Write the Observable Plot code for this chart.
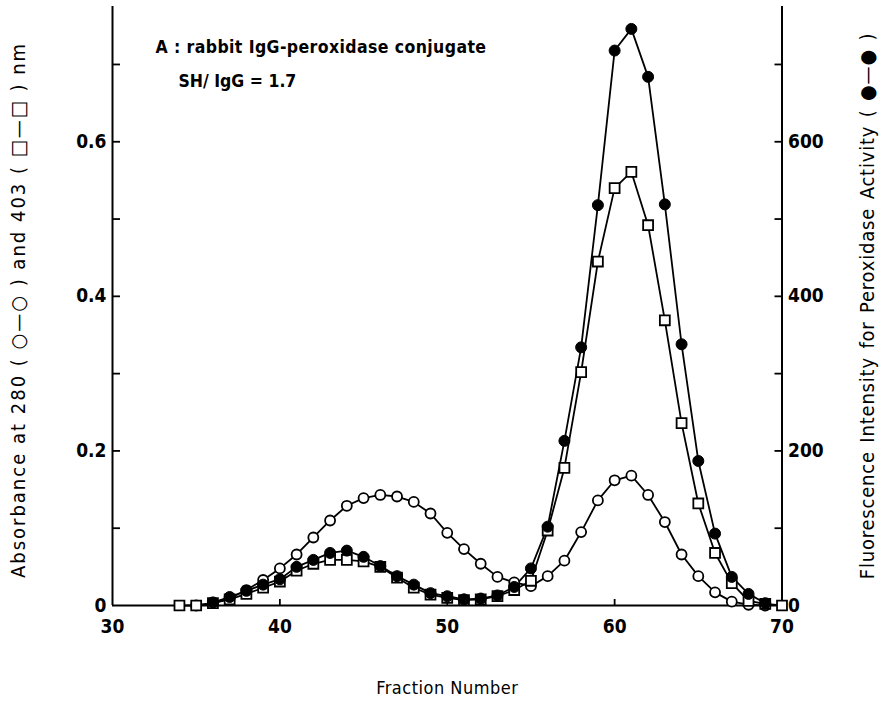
<!DOCTYPE html>
<html><head><meta charset="utf-8">
<script src="https://cdn.jsdelivr.net/npm/d3@7"></script>
<script src="https://cdn.jsdelivr.net/npm/@observablehq/plot@0.6"></script>
<style>body{margin:0;background:#fff} svg{display:block}</style>
</head><body><div id="chart"></div>
<script>
// Absorbance at 280 nm (open circles)
const fractions280 = [35,36,37,38,39,40,41,42,43,44,45,46,47,48,49,50,51,52,53,54,55,56,57,58,59,60,61,62,63,64,65,66,67,68,69];
const abs280 = [0,0.003,0.009,0.02,0.033,0.048,0.066,0.088,0.110,0.129,0.139,0.143,0.141,0.134,0.119,0.094,0.073,0.054,0.037,0.030,0.025,0.038,0.058,0.095,0.136,0.162,0.168,0.143,0.108,0.066,0.038,0.017,0.005,0.001,0];
// Absorbance at 403 nm (open squares)
const fractions403 = [34,35,36,37,38,39,40,41,42,43,44,45,46,47,48,49,50,51,52,53,54,55,56,57,58,59,60,61,62,63,64,65,66,67,68,69,70];
const abs403 = [0,0,0.003,0.008,0.015,0.023,0.031,0.045,0.054,0.059,0.059,0.057,0.050,0.036,0.023,0.014,0.010,0.007,0.008,0.012,0.020,0.032,0.097,0.178,0.302,0.445,0.540,0.561,0.492,0.369,0.236,0.132,0.068,0.029,0.006,0.002,0];
// Fluorescence intensity for peroxidase activity (filled circles, right axis)
const fractionsFluor = [36,37,38,39,40,41,42,43,44,45,46,47,48,49,50,51,52,53,54,55,56,57,58,59,60,61,62,63,64,65,66,67,68,69];
const fluor = [4,11,19,27,34,50,59,68,71,63,51,38,27,16,12,8,9,13,24,48,102,213,334,518,718,746,684,519,338,187,93,37,15,3];

const xDomain = [30, 70];
const xTickLabels = [30, 40, 50, 60, 70];
const xInnerTicks = [40, 50, 60];
const yDomain = [0, 0.775];
const yTickLabels = [0, 0.2, 0.4, 0.6];
const yMinorTicks = [0.1, 0.2, 0.3, 0.4, 0.5, 0.6, 0.7];
const fluorTickLabels = [0, 200, 400, 600];
const fluorMinorTicks = [100, 200, 300, 400, 500, 600, 700];
const fluorPerAbs = 1000;

const t280 = fractions280.map((f, i) => ({fraction: f, value: abs280[i]}));
const t403 = fractions403.map((f, i) => ({fraction: f, value: abs403[i]}));
const tFl = fractionsFluor.map((f, i) => ({fraction: f, value: fluor[i]}));

const FONT = '"DejaVu Sans Condensed", "Liberation Sans Narrow", "DejaVu Sans", sans-serif';
const SW = 1.8;
const LEFT_TITLE = "Absorbance at 280 ( \u25CB\u2014\u25CB ) and 403 ( \u25A1\u2014\u25A1 ) nm";
const RIGHT_TITLE = "Fluorescence Intensity for Peroxidase Activity ( \u25CF\u2014\u25CF )";
const NOTE1 = "A : rabbit IgG-peroxidase conjugate";
const NOTE2 = "SH/ IgG = 1.7";

const chart = Plot.plot({
  width: 886, height: 708,
  marginLeft: 112, marginRight: 104.5, marginTop: 6, marginBottom: 103,
  x: {domain: xDomain, label: null},
  y: {domain: yDomain, label: null},
  style: {fontFamily: FONT, background: "white", color: "black"},
  marks: [
    Plot.ruleX(xDomain, {stroke: "black", strokeWidth: 2}),
    Plot.ruleY([0], {stroke: "black", strokeWidth: 2}),
    // left axis
    Plot.axisY({anchor: "left", ticks: yTickLabels, tickSize: 0, tickPadding: 6, tickFormat: d => d === 0 ? "0" : d3.format(".1f")(d), fontSize: 19, fontWeight: "bold", label: null}),
    Plot.axisY({anchor: "left", ticks: yMinorTicks, tickSize: -8, strokeWidth: 1.8, tickFormat: () => "", label: null}),
    // right axis (fluorescence)
    Plot.axisY({anchor: "right", ticks: fluorTickLabels.map(v => v / fluorPerAbs), tickSize: 0, tickPadding: 6, tickFormat: d => Math.round(d * fluorPerAbs), fontSize: 19, fontWeight: "bold", label: null}),
    Plot.axisY({anchor: "right", ticks: fluorMinorTicks.map(v => v / fluorPerAbs), tickSize: -8, strokeWidth: 1.8, tickFormat: () => "", label: null}),
    // x axis
    Plot.axisX({ticks: xTickLabels, tickSize: 0, tickPadding: 14, fontSize: 19, fontWeight: "bold", label: null}),
    Plot.axisX({ticks: xInnerTicks, tickSize: -6, strokeWidth: 1.8, tickFormat: () => "", label: null}),
    // series
    Plot.line(t280, {x: "fraction", y: "value", stroke: "black", strokeWidth: SW}),
    Plot.line(t403, {x: "fraction", y: "value", stroke: "black", strokeWidth: SW}),
    Plot.line(tFl, {x: "fraction", y: d => d.value / fluorPerAbs, stroke: "black", strokeWidth: SW}),
    Plot.dot(t280, {x: "fraction", y: "value", r: 5, fill: "white", stroke: "black", strokeWidth: SW}),
    Plot.dot(t403, {x: "fraction", y: "value", r: 5.6, symbol: "square", fill: "white", stroke: "black", strokeWidth: SW}),
    Plot.dot(tFl, {x: "fraction", y: d => d.value / fluorPerAbs, r: 5.5, fill: "black", stroke: "black", strokeWidth: 1}),
    // annotation
    Plot.text([NOTE1], {frameAnchor: "top-left", dx: 43, dy: 34, textAnchor: "start", fontSize: 17.5, fontWeight: "bold"}),
    Plot.text([NOTE2], {frameAnchor: "top-left", dx: 66, dy: 68, textAnchor: "start", fontSize: 17.5, fontWeight: "bold"}),
    // axis titles
    Plot.text([LEFT_TITLE], {frameAnchor: "left", dx: -94, dy: 4, rotate: -90, fontSize: 20, textAnchor: "middle"}),
    Plot.text([RIGHT_TITLE], {frameAnchor: "right", dx: 86, dy: 0, rotate: -90, fontSize: 20, textAnchor: "middle"}),
    Plot.text(["Fraction Number"], {frameAnchor: "bottom", dy: 88, fontSize: 18})
  ]
});
const texts = d3.select(chart).selectAll("text");
texts.filter(function() { return this.textContent === LEFT_TITLE; }).style("letter-spacing", "2px").style("word-spacing", "0px");
texts.filter(function() { return this.textContent === RIGHT_TITLE; }).style("letter-spacing", "0.8px").style("word-spacing", "2px");
texts.filter(function() { return this.textContent === NOTE1; }).style("letter-spacing", "0.4px");
texts.filter(function() { return this.textContent === "Fraction Number"; }).style("letter-spacing", "0.5px");
document.getElementById("chart").append(chart);
</script>
</body></html>
